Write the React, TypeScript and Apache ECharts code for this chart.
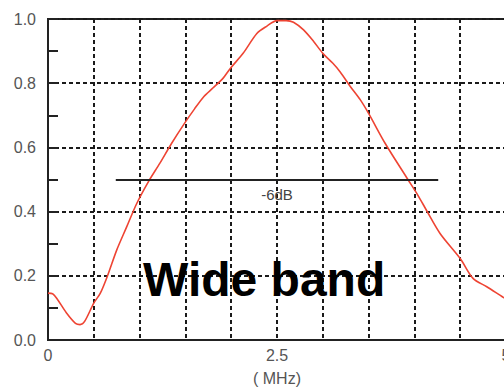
import React, { useEffect, useRef } from "react";
import * as echarts from "echarts";

const freqMHz = [0.0, 0.05, 0.1, 0.2, 0.3, 0.35, 0.4, 0.5, 0.57, 0.65, 0.75, 0.86, 0.97, 1.1, 1.22, 1.35, 1.49, 1.6, 1.7, 1.8, 1.91, 1.99, 2.13, 2.28, 2.39, 2.5, 2.6, 2.68, 2.79, 2.9, 3.0, 3.11, 3.19, 3.3, 3.41, 3.5, 3.68, 3.92, 4.04, 4.13, 4.28, 4.5, 4.64, 4.79, 4.97, 5.0];
const response = [0.146, 0.144, 0.128, 0.085, 0.052, 0.048, 0.058, 0.115, 0.145, 0.2, 0.28, 0.353, 0.426, 0.495, 0.55, 0.613, 0.675, 0.72, 0.758, 0.785, 0.815, 0.846, 0.893, 0.955, 0.978, 0.995, 0.995, 0.99, 0.966, 0.93, 0.893, 0.862, 0.835, 0.79, 0.748, 0.706, 0.613, 0.504, 0.45, 0.405, 0.332, 0.254, 0.192, 0.166, 0.133, 0.128];
const xLabels = ["0", "2.5", "5"];
const bandStart = 0.74;
const bandEnd = 4.26;
const bandLevel = 0.5;
const bandLabel = "-6dB";
const title = "Wide band";
const xName = "( MHz)";

const FONT = "'Liberation Sans', Arial, Helvetica, sans-serif";

export default function App() {
  const ref = useRef<HTMLDivElement>(null);
  useEffect(() => {
    if (!ref.current) return;
    const chart = echarts.init(ref.current, undefined, { renderer: "svg" });
    const dashed = { color: "#1a1a1a", width: 2, type: [4, 3] as any };
    chart.setOption({
      animation: false,
      backgroundColor: "#fff",
      grid: {
        left: 48,
        top: 19,
        width: 458,
        height: 321,
        outerBoundsMode: "none",
        containLabel: false,
        show: true,
        borderColor: "#222",
        borderWidth: 2,
        backgroundColor: "transparent",
      },
      xAxis: {
        type: "value",
        min: 0,
        max: 5,
        interval: 0.5,
        axisLine: { show: true, lineStyle: { color: "#222", width: 2 } },
        axisTick: { show: false },
        splitLine: { show: true, lineStyle: dashed },
        axisLabel: {
          margin: 7,
          fontSize: 16,
          color: "#555",
          fontFamily: FONT,
          formatter: (v: number) => {
            const s = String(Math.round(v * 10) / 10);
            return xLabels.includes(s) ? s : "";
          },
        },
        name: xName,
        nameLocation: "middle",
        nameGap: 30,
        nameTextStyle: { fontSize: 16, color: "#555", fontFamily: FONT },
      },
      yAxis: {
        type: "value",
        min: 0,
        max: 1,
        interval: 0.2,
        axisLine: { show: true, lineStyle: { color: "#222", width: 2 } },
        axisTick: { show: true, inside: true, length: 10, lineStyle: { color: "#222", width: 2 } },
        minorTick: { show: true, splitNumber: 2, length: 10, lineStyle: { color: "#222", width: 2 } },
        splitLine: { show: true, lineStyle: dashed },
        axisLabel: {
          margin: 12,
          fontSize: 16,
          color: "#555",
          fontFamily: FONT,
          formatter: (v: number) => v.toFixed(1),
        },
      },
      series: [
        {
          type: "line",
          data: freqMHz.map((f, i) => [f, response[i]]),
          smooth: 0.3,
          symbol: "none",
          lineStyle: { color: "#ee4433", width: 1.6 },
          markLine: {
            silent: true,
            symbol: "none",
            lineStyle: { color: "#222", width: 2, type: "solid" },
            label: {
              show: true,
              position: "insideMiddleBottom",
              distance: 7,
              formatter: bandLabel,
              fontSize: 15,
              color: "#444",
              fontFamily: FONT,
            },
            data: [[{ coord: [bandStart, bandLevel] }, { coord: [bandEnd, bandLevel] }]],
          },
        },
      ],
      graphic: [
        {
          type: "text",
          left: 143,
          top: 255,
          z: 100,
          style: {
            text: title,
            font: `bold 48px ${FONT}`,
            fill: "#000",
          },
        },
      ],
    });
    return () => chart.dispose();
  }, []);
  return (
    <div style={{ position: "fixed", left: 0, top: 0, width: 504, height: 389, overflow: "hidden", background: "#fff" }}>
      <div ref={ref} style={{ width: 530, height: 389 }} />
    </div>
  );
}
